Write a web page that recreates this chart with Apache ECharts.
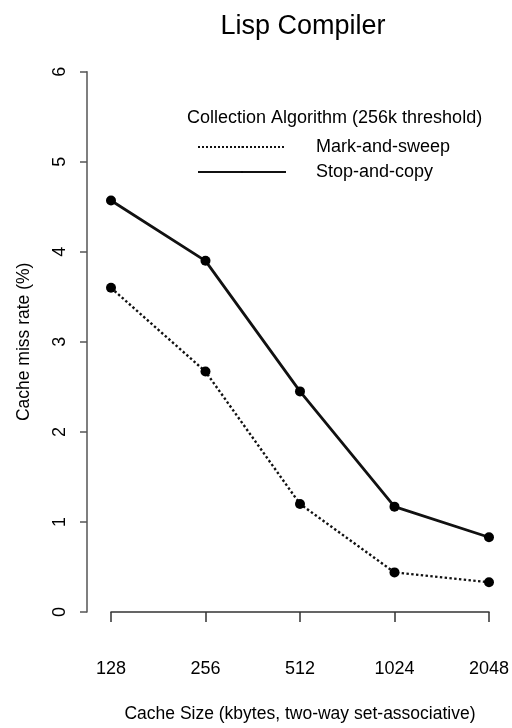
<!DOCTYPE html>
<html>
<head>
<meta charset="utf-8">
<script src="https://cdn.jsdelivr.net/npm/echarts@6/dist/echarts.min.js"></script>
<style>
html,body{margin:0;padding:0;background:#fff;}
#c{width:512px;height:728px;}
</style>
</head>
<body>
<div id="c"></div>
<script>
var categories = ['128', '256', '512', '1024', '2048'];
var markAndSweep = [3.60, 2.67, 1.20, 0.44, 0.33];
var stopAndCopy = [4.57, 3.90, 2.45, 1.17, 0.83];
var yTicks = [0, 1, 2, 3, 4, 5, 6];

var FONT = '"Liberation Sans", Arial, Helvetica, sans-serif';

var chart = echarts.init(document.getElementById('c'), null, {renderer: 'canvas'});
chart.setOption({
  backgroundColor: '#fff',
  animation: false,
  title: [
    {text: 'Lisp Compiler', left: 298, top: 8, textAlign: 'center',
     textStyle: {fontFamily: FONT, fontSize: 27, fontWeight: 'normal', color: '#000'}},
    {text: 'Collection Algorithm (256k threshold)', left: 182, top: 104,
     textStyle: {fontFamily: FONT, fontSize: 18, fontWeight: 'normal', color: '#000'}}
  ],
  legend: {
    orient: 'vertical',
    left: 192,
    top: 133,
    itemWidth: 88,
    itemHeight: 2,
    itemGap: 7,
    textStyle: {fontFamily: FONT, fontSize: 18, color: '#000', padding: [0, 0, 0, 25]},
    data: ['Mark-and-sweep', 'Stop-and-copy']
  },
  grid: {left: 111, right: 22, top: 71.7, bottom: 114.7, containLabel: false},
  xAxis: {
    type: 'category',
    data: categories,
    boundaryGap: false,
    offset: 24,
    axisLine: {lineStyle: {color: '#333', width: 1.5}},
    axisTick: {length: 10, alignWithLabel: true, lineStyle: {color: '#333', width: 1.5}},
    axisLabel: {fontFamily: FONT, fontSize: 18, color: '#000', margin: 24},
    name: 'Cache Size (kbytes, two-way set-associative)',
    nameLocation: 'middle',
    nameGap: 69,
    nameTextStyle: {fontFamily: FONT, fontSize: 17.5, color: '#000'},
    splitLine: {show: false}
  },
  yAxis: {
    type: 'value',
    min: 0, max: 6, interval: 1,
    offset: 24,
    axisLine: {show: true, lineStyle: {color: '#555', width: 1.5}},
    axisTick: {show: true, length: 7, lineStyle: {color: '#555', width: 1.5}},
    axisLabel: {fontFamily: FONT, fontSize: 18, color: '#000', rotate: 90, margin: 18, hideOverlap: false,
      formatter: function (v) { return yTicks.indexOf(v) >= 0 ? String(v) : ''; }},
    name: 'Cache miss rate (%)',
    nameLocation: 'middle',
    nameGap: 54,
    nameTextStyle: {fontFamily: FONT, fontSize: 17.5, color: '#000'},
    splitLine: {show: false}
  },
  series: [
    {
      name: 'Mark-and-sweep', type: 'line', data: markAndSweep,
      symbol: 'circle', symbolSize: 10,
      itemStyle: {color: '#000'},
      lineStyle: {color: '#111', width: 2.4, type: 'dotted'}
    },
    {
      name: 'Stop-and-copy', type: 'line', data: stopAndCopy,
      symbol: 'circle', symbolSize: 10,
      itemStyle: {color: '#000'},
      lineStyle: {color: '#111', width: 2.8, type: 'solid'}
    }
  ]
});
</script>
</body>
</html>
